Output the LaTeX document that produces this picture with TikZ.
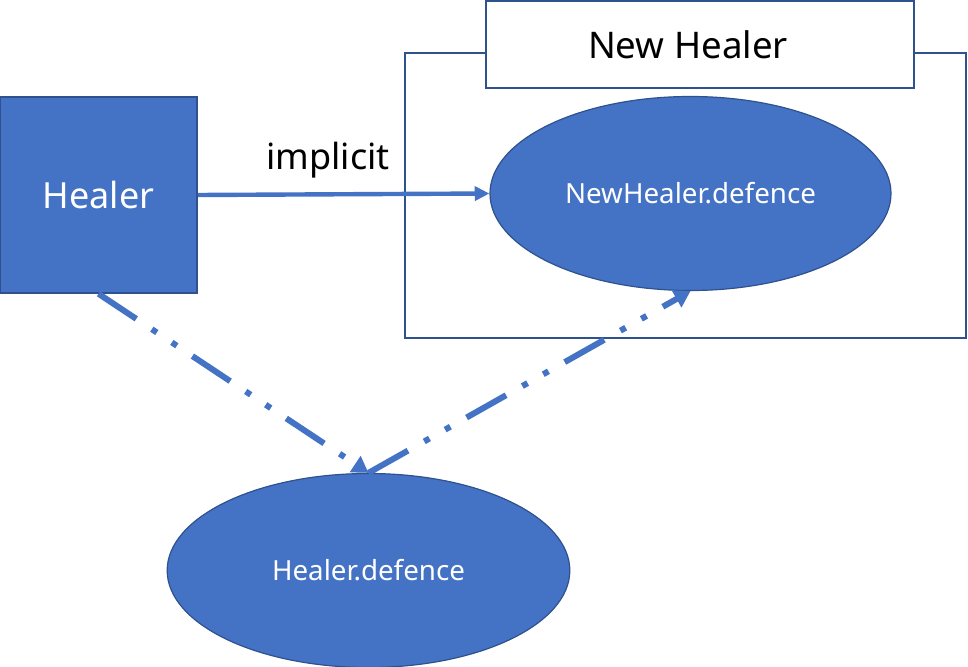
\documentclass[tikz,border=0pt]{standalone}
\usepackage{fontspec}
\setmainfont{Noto Sans}
\usetikzlibrary{shapes.geometric,arrows.meta}
\definecolor{ofill}{HTML}{4472C4}
\definecolor{oline}{HTML}{2F528F}
\tikzset{
  bluebox/.style={draw=oline,line width=1.2pt,fill=ofill,text=white,inner sep=0pt},
  whitebox/.style={draw=oline,line width=1.2pt,fill=white,inner sep=0pt},
  blueell/.style={ellipse,draw=oline,line width=0.9pt,fill=ofill,text=white,inner sep=0pt},
  solidarrow/.style={draw=ofill,line width=3.3pt,-{Triangle[length=11pt,width=10.5pt]}},
  dotarrow/.style={draw=ofill,line width=4.5pt,
    dash pattern=on 34pt off 14pt on 4.5pt off 13.5pt on 4.5pt off 14pt,
    -{Triangle[length=12pt,width=14pt]}},
}
\begin{document}
\begin{tikzpicture}[x=0.75pt,y=-0.75pt]
\useasboundingbox (0,0) rectangle (968,667);
\node[whitebox,minimum width=420.75pt,minimum height=213.75pt] (outer) at (685.5,195.5) {};
\node[whitebox,minimum width=321pt,minimum height=65.25pt] (title) at (700,44.5) {};
\node[font=\fontsize{27.5}{33}\selectfont] (titletext) at ([xshift=-9pt]title.center) {New Healer};
\node[blueell,minimum width=300.75pt,minimum height=145.5pt,font=\fontsize{20.8}{25}\selectfont] (nhd) at (690.5,193.5) {NewHealer.defence};
\node[blueell,minimum width=302pt,minimum height=145.5pt,font=\fontsize{20.8}{25}\selectfont] (hd) at (368.5,570.5) {Healer.defence};
\node[bluebox,minimum width=147.75pt,minimum height=147pt,font=\fontsize{27}{32}\selectfont] (healer) at (98.5,195) {Healer};
\node[font=\fontsize{27}{32}\selectfont] (impl) at (328,160) {implicit};
\draw[solidarrow] (healer.east) -- (nhd.west);
\draw[dotarrow] (healer.south) -- (hd.north);
\draw[dotarrow] (hd.north) -- (nhd.south);
\end{tikzpicture}
\end{document}
